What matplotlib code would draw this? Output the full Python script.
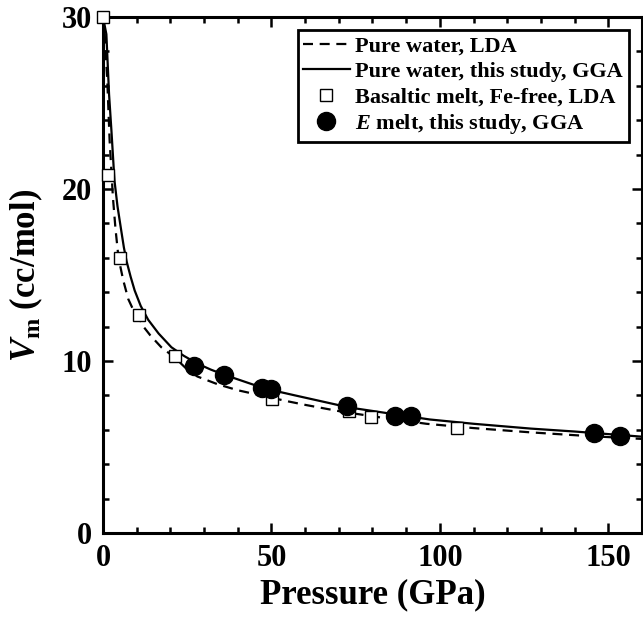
import matplotlib
matplotlib.use("Agg")
import matplotlib.pyplot as plt
from matplotlib.ticker import MultipleLocator

plt.rcParams['font.family'] = ['Liberation Serif', 'DejaVu Serif']
plt.rcParams['font.weight'] = 'bold'
plt.rcParams['mathtext.fontset'] = 'custom'
plt.rcParams['mathtext.rm'] = 'Liberation Serif:bold'
plt.rcParams['mathtext.it'] = 'Liberation Serif:italic:bold'
plt.rcParams['mathtext.bf'] = 'Liberation Serif:bold'

# Pure water, LDA (dashed)
lda_p = [0, 0.5, 1.27, 1.97, 2.95, 3.7, 4.6, 6.0, 7.5, 8.8, 10.4, 12.0, 14.0, 17.3, 21.3,
         24.5, 28, 34, 40, 48, 55, 60, 71, 83, 96, 110, 127, 143, 160]
lda_v = [30, 29.0, 26.3, 22.8, 19.5, 17.7, 16.0, 14.7, 13.6, 13.05, 12.6, 12.0, 11.5, 10.8, 10.2,
         9.6, 9.1, 8.65, 8.3, 7.95, 7.65, 7.45, 7.05, 6.7, 6.35, 6.1, 5.85, 5.65, 5.47]

# Pure water, this study, GGA (solid)
gga_p = [0, 1.0, 1.8, 2.5, 3.4, 4.3, 5.4, 6.2, 7.0, 8.2, 9.4, 11.2, 13.4, 16.5, 20.3, 24, 28,
         32, 36, 42, 48, 57, 65, 73, 85, 97, 110, 127, 140, 160]
gga_v = [30, 29.0, 25.5, 23.4, 20.5, 19.0, 17.6, 16.6, 15.8, 14.9, 14.1, 13.2, 12.4, 11.6, 10.8, 10.3, 9.85,
         9.5, 9.2, 8.8, 8.4, 8.0, 7.65, 7.3, 6.95, 6.6, 6.35, 6.07, 5.9, 5.6]

# Basaltic melt, Fe-free, LDA (open squares)
bas_p = [0, 1.5, 5.0, 10.6, 21.3, 50.1, 73.1, 79.7, 105]
bas_v = [30, 20.8, 16.0, 12.7, 10.3, 7.8, 7.1, 6.76, 6.1]

# E melt, this study, GGA (filled circles)
em_p = [26.9, 35.8, 47.3, 50.0, 72.4, 86.7, 91.4, 145.8, 153.6]
em_v = [9.7, 9.19, 8.41, 8.35, 7.38, 6.80, 6.82, 5.83, 5.66]

fig = plt.figure(figsize=(6.43, 6.18), dpi=100)
ax = fig.add_axes([103/643, 1-533/618, (642-103)/643, (533-17)/618])

ax.plot(lda_p, lda_v, color='black', lw=1.6, ls=(0, (4.5, 3)), label='Pure water, LDA', zorder=2)
ax.plot(gga_p, gga_v, color='black', lw=1.6, ls='-', label='Pure water, this study, GGA', zorder=2)
ax.plot(bas_p, bas_v, ls='none', marker='s', ms=8.5, mfc='white', mec='black', mew=1.0,
        label='Basaltic melt, Fe-free, LDA', zorder=3, clip_on=False)
ax.plot(em_p, em_v, ls='none', marker='o', ms=13, mfc='black', mec='black',
        label=r'$E$ melt, this study, GGA', zorder=4)

ax.set_xlim(0, 160)
ax.set_ylim(0, 30)
ax.xaxis.set_major_locator(MultipleLocator(50))
ax.xaxis.set_minor_locator(MultipleLocator(10))
ax.yaxis.set_major_locator(MultipleLocator(10))
ax.yaxis.set_minor_locator(MultipleLocator(2))
ax.tick_params(which='both', direction='in', top=True, right=True, width=1.8)
ax.tick_params(which='major', length=7, labelsize=22, pad=8)
ax.tick_params(which='minor', length=4)
for s in ax.spines.values():
    s.set_linewidth(2.2)

ax.set_xlabel('Pressure (GPa)', fontsize=25, fontweight='bold', labelpad=4)
ax.set_ylabel(r'$V_{\mathrm{m}}$ (cc/mol)', fontsize=25, fontweight='bold', labelpad=12)

leg = ax.legend(loc='upper right', fontsize=16, frameon=True, fancybox=False,
                edgecolor='black', framealpha=1, borderpad=0.25, labelspacing=0.22,
                handlelength=2.1, handletextpad=0.25, borderaxespad=0.6)
leg.get_frame().set_linewidth(2.0)

fig.savefig('out.png', dpi=100)
